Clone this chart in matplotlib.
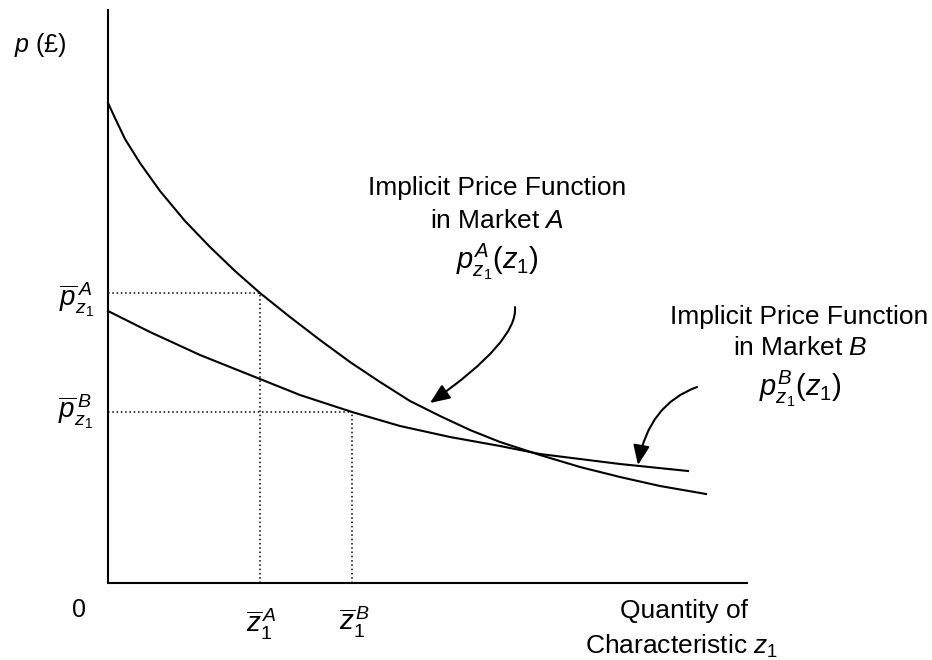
import matplotlib.pyplot as plt
from matplotlib.patches import FancyArrowPatch

plt.rcParams['font.family'] = ['Liberation Sans', 'DejaVu Sans']
plt.rcParams['mathtext.fontset'] = 'custom'
plt.rcParams['mathtext.rm'] = 'Liberation Sans'
plt.rcParams['mathtext.it'] = 'Liberation Sans:italic'
plt.rcParams['mathtext.bf'] = 'Liberation Sans:bold'

# implicit price function, market A (quantity, price)
qA = [0, 7, 17, 32, 52, 77, 102, 127, 152, 182, 212, 242, 272, 302, 332, 362, 392, 432, 472, 512, 552, 598]
pA = [480, 465, 444, 420, 392, 362, 336, 312, 290, 266, 243, 221, 201, 182, 167, 153, 141, 128, 116, 106, 97, 89]
# implicit price function, market B
qB = [0, 42, 92, 152, 192, 244, 292, 342, 392, 432, 512, 580]
pB = [272, 251, 228, 204, 188, 171, 157, 146, 137, 129, 119, 112]
# equilibrium quantity / price in each market
zbar = {'A': 152, 'B': 244}
pbar = {'A': 290, 'B': 171}

fig = plt.figure(figsize=(9.32, 6.6), dpi=100)
ax = fig.add_axes([0, 0, 1, 1])
ax.set_xlim(-108, 824)
ax.set_ylim(-77, 583)

ax.plot(qA, pA, color='black', lw=1.5, solid_joinstyle='round')
ax.plot(qB, pB, color='black', lw=1.5, solid_joinstyle='round')

for m in ['A', 'B']:
    ax.plot([0, zbar[m]], [pbar[m], pbar[m]], color='black', lw=1.1, ls=(0, (1, 1.8)))
    ax.plot([zbar[m], zbar[m]], [0, pbar[m]], color='black', lw=1.1, ls=(0, (1, 1.8)))

# axes
for s in ['top', 'right']:
    ax.spines[s].set_visible(False)
ax.spines['left'].set_position(('data', 0))
ax.spines['bottom'].set_position(('data', 0))
ax.spines['left'].set_bounds(0, 573)
ax.spines['bottom'].set_bounds(0, 639)
ax.spines['left'].set_linewidth(1.5)
ax.spines['bottom'].set_linewidth(1.5)
ax.set_xticks([])
ax.set_yticks([])
ax.patch.set_alpha(0)

fs = 19
ax.text(-68, 538, r'$p$ (£)', fontsize=fs - 1, ha='center', va='center')
ax.text(-29, -27, '0', fontsize=fs - 1, ha='center', va='center')
ax.text(-14, 283, r'$\overline{p}_{z_{\mathit{1}}}^{\,A}$', fontsize=fs + 1, ha='right', va='center')
ax.text(-15, 171, r'$\overline{p}_{z_{\mathit{1}}}^{\,B}$', fontsize=fs + 1, ha='right', va='center')
ax.text(153, -41, r'$\overline{z}_{\mathit{1}}^{\,A}$', fontsize=fs + 1, ha='center', va='center')
ax.text(247, -39, r'$\overline{z}_{\mathit{1}}^{\,B}$', fontsize=fs + 1, ha='center', va='center')
ax.text(576, -28, 'Quantity of', fontsize=fs, ha='center', va='center')
ax.text(574, -63, r'Characteristic $z_1$', fontsize=fs, ha='center', va='center')

ax.text(389, 395, 'Implicit Price Function', fontsize=fs, ha='center', va='center')
ax.text(389, 362, r'in Market $A$', fontsize=fs, ha='center', va='center')
ax.text(389, 321, r'$p_{z_{\mathit{1}}}^{A}(z_{\mathit{1}})$', fontsize=fs + 2, ha='center', va='center')
ax.text(691, 266, 'Implicit Price Function', fontsize=fs, ha='center', va='center')
ax.text(692, 235, r'in Market $B$', fontsize=fs, ha='center', va='center')
ax.text(692, 194, r'$p_{z_{\mathit{1}}}^{B}(z_{\mathit{1}})$', fontsize=fs + 2, ha='center', va='center')

arrA = FancyArrowPatch((407, 276), (322, 180), connectionstyle='angle3,angleA=95,angleB=35',
                       arrowstyle='-|>,head_length=12,head_width=5', color='black', lw=1.5,
                       shrinkA=0, shrinkB=0)
arrB = FancyArrowPatch((589, 196), (530, 118), connectionstyle='angle3,angleA=20,angleB=80',
                       arrowstyle='-|>,head_length=12,head_width=5', color='black', lw=1.5,
                       shrinkA=0, shrinkB=0)
ax.add_patch(arrA)
ax.add_patch(arrB)

fig.savefig('out.png', dpi=100)
